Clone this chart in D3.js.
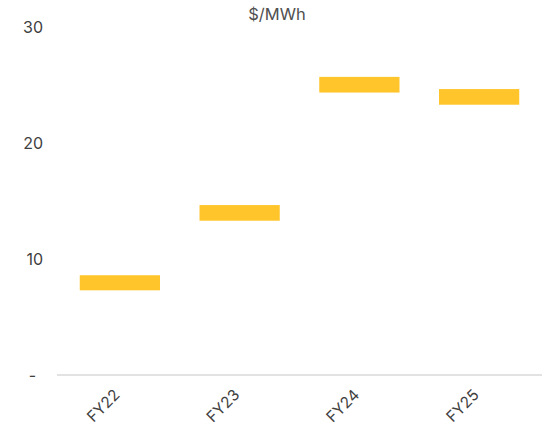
<!DOCTYPE html>
<html>
<head>
<meta charset="utf-8">
<script src="https://cdn.jsdelivr.net/npm/d3@7/dist/d3.min.js"></script>
<style>
  html, body { margin: 0; padding: 0; background: #fff; }
  svg { display: block; }
  svg text { font-family: Inter, "Noto Sans", sans-serif; }
</style>
</head>
<body>
<div id="chart"></div>
<script>
const categories = ["FY22", "FY23", "FY24", "FY25"];
const lowValues  = [7.3, 13.3, 24.35, 23.3];
const highValues = [8.6, 14.65, 25.7, 24.65];
const yTicks = [0, 10, 20, 30];
const yTickLabels = ["-", "10", "20", "30"];
const unitLabel = "$/MWh";

const W = 542, H = 430;
const svg = d3.select("#chart").append("svg").attr("width", W).attr("height", H);

const x = d3.scaleBand().domain(categories).range([60, 539]).paddingInner(0.33).paddingOuter(0.165);
const y = d3.scaleLinear().domain([0, 30]).range([375, 27]);

// baseline
svg.append("line")
  .attr("x1", 57).attr("x2", W)
  .attr("y1", y(0)).attr("y2", y(0))
  .attr("stroke", "#d9d9d9").attr("stroke-width", 1.5);

// y axis labels
const yAxis = d3.axisLeft(y).tickValues(yTicks).tickFormat((d, i) => yTickLabels[i]).tickSize(0).tickPadding(0);
const yg = svg.append("g").attr("transform", "translate(43,0)").call(yAxis);
yg.attr("font-family", null).attr("font-size", null);
yg.select(".domain").remove();
yg.selectAll("text")
  .attr("fill", "#404040").attr("font-size", 16)
  .attr("dx", d => d === 0 ? -7 : 0);

// x axis labels
const xAxis = d3.axisBottom(x).tickSize(0).tickPadding(0);
const xg = svg.append("g").attr("transform", `translate(0,${y(0)})`).call(xAxis);
xg.attr("font-family", null).attr("font-size", null);
xg.select(".domain").remove();
xg.selectAll("text")
  .attr("fill", "#404040").attr("font-size", 15.5)
  .attr("text-anchor", "end")
  .attr("dy", "0.35em")
  .attr("transform", "translate(-3,17) rotate(-45)");

// bars
svg.append("g").selectAll("rect").data(categories).join("rect")
  .attr("x", d => x(d))
  .attr("width", x.bandwidth())
  .attr("y", (d, i) => y(highValues[i]))
  .attr("height", (d, i) => y(lowValues[i]) - y(highValues[i]))
  .attr("fill", "#ffc52b");

// unit label
svg.append("text")
  .attr("x", 277).attr("y", 14).attr("dy", "0.35em")
  .attr("text-anchor", "middle")
  .attr("fill", "#505050").attr("font-size", 16.5)
  .text(unitLabel);
</script>
</body>
</html>
